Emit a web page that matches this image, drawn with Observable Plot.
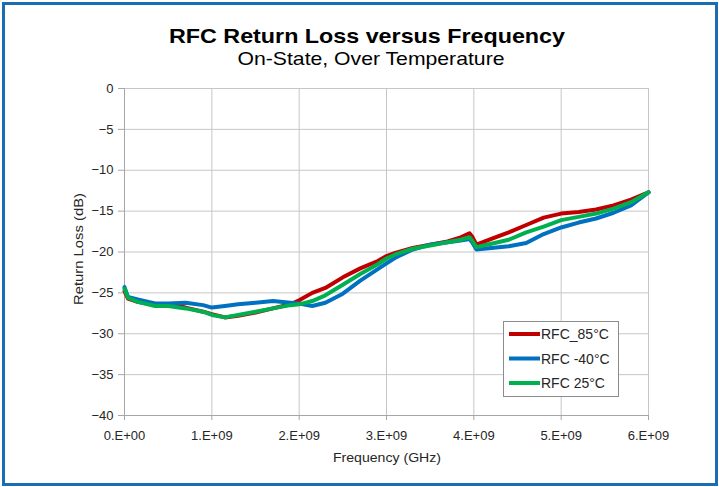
<!DOCTYPE html>
<html>
<head>
<meta charset="utf-8">
<script src="https://cdn.jsdelivr.net/npm/d3@7"></script>
<script src="https://cdn.jsdelivr.net/npm/@observablehq/plot@0.6"></script>
<style>
  html, body { margin: 0; padding: 0; background: #fff; }
  #wrap { position: relative; width: 719px; height: 487px; overflow: hidden; background: #fff; }
  #frame { position: absolute; left: 2px; top: 2px; width: 716px; height: 484px; box-sizing: border-box; border: 3px solid #1a6db3; }
  #chart { position: absolute; left: 0; top: 0; }
  #chart svg { font-family: "Liberation Sans", Arial, sans-serif; }
</style>
</head>
<body>
<div id="wrap"><div id="frame"></div><div id="chart"></div></div>
<script>
// Frequency grid (GHz)
const freqGHz = [0, 0.04, 0.15, 0.35, 0.5, 0.7, 0.9, 1.0, 1.15, 1.3, 1.5, 1.7, 1.9, 2.0, 2.15, 2.3, 2.5, 2.7, 2.9, 3.0, 3.1, 3.3, 3.5, 3.7, 3.85, 3.95, 3.98, 4.03, 4.2, 4.4, 4.6, 4.8, 5.0, 5.2, 5.4, 5.6, 5.8, 6.0];
// Return loss (dB) for each series
const rfc85 = [-24.8, -25.7, -26.1, -26.5, -26.4, -26.8, -27.3, -27.6, -28.0, -27.8, -27.4, -26.9, -26.4, -25.9, -25.0, -24.4, -23.1, -22.0, -21.1, -20.5, -20.1, -19.5, -19.1, -18.7, -18.2, -17.7, -18.1, -19.1, -18.4, -17.6, -16.7, -15.8, -15.3, -15.1, -14.8, -14.3, -13.6, -12.7];
const rfcM40 = [-24.3, -25.5, -25.8, -26.3, -26.3, -26.2, -26.5, -26.8, -26.6, -26.4, -26.2, -26.0, -26.2, -26.3, -26.6, -26.2, -25.1, -23.5, -22.1, -21.4, -20.7, -19.7, -19.1, -18.8, -18.6, -18.4, -18.8, -19.7, -19.5, -19.3, -18.9, -17.8, -17.0, -16.4, -15.9, -15.2, -14.3, -12.7];
const rfc25 = [-24.5, -25.6, -26.1, -26.6, -26.6, -26.9, -27.3, -27.7, -28.0, -27.7, -27.3, -26.9, -26.5, -26.4, -26.0, -25.3, -24.0, -22.7, -21.5, -20.8, -20.3, -19.6, -19.2, -18.8, -18.5, -18.2, -18.6, -19.4, -19.0, -18.5, -17.6, -16.9, -16.1, -15.7, -15.3, -14.7, -13.9, -12.7];

const seriesNames = ["RFC_85°C", "RFC -40°C", "RFC 25°C"];
const seriesColors = ["#c00000", "#0070c0", "#00b050"];
const xTicks = [0, 1e9, 2e9, 3e9, 4e9, 5e9, 6e9];
const xTickLabels = ["0.E+00", "1.E+09", "2.E+09", "3.E+09", "4.E+09", "5.E+09", "6.E+09"];
const yTicks = [0, -5, -10, -15, -20, -25, -30, -35, -40];

const titleText = "RFC Return Loss versus Frequency";
const subtitleText = "On-State, Over Temperature";
const xLabel = "Frequency (GHz)";
const yLabel = "Return Loss (dB)";

const seriesValues = [rfc85, rfcM40, rfc25];
const data = seriesValues.flatMap((vals, i) =>
  vals.map((v, j) => ({ f: freqGHz[j] * 1e9, db: v, s: seriesNames[i] })));

const W = 719, H = 487;
const mL = 124, mR = 71, mT = 88, mB = 72;

const chart = Plot.plot({
  width: W,
  height: H,
  marginLeft: mL,
  marginRight: mR,
  marginTop: mT,
  marginBottom: mB,
  style: { fontFamily: "Liberation Sans, Arial, sans-serif", color: "#262626", background: "transparent", overflow: "visible" },
  x: { domain: [0, 6e9], ticks: xTicks },
  y: { domain: [-40, 0], ticks: yTicks },
  color: { domain: seriesNames, range: seriesColors },
  marks: [
    Plot.gridX(xTicks, { stroke: "#c6c6c6", strokeOpacity: 1, strokeWidth: 1 }),
    Plot.gridY(yTicks, { stroke: "#c6c6c6", strokeOpacity: 1, strokeWidth: 1 }),
    Plot.ruleX([0], { stroke: "#a6a6a6", strokeWidth: 1 }),
    Plot.ruleY([-40], { stroke: "#a6a6a6", strokeWidth: 1 }),
    Plot.axisX(xTicks, {
      tickSize: 5, tickPadding: 10, fontSize: 13, stroke: "#a6a6a6",
      tickFormat: (d) => xTickLabels[xTicks.indexOf(d)], label: null
    }),
    Plot.axisY(yTicks, {
      tickSize: 6, tickPadding: 5, fontSize: 13, stroke: "#a6a6a6", label: null
    }),
    Plot.line(data, {
      x: "f", y: "db", z: "s", stroke: "s",
      strokeWidth: 4, strokeLinejoin: "round", strokeLinecap: "round", curve: "linear"
    })
  ]
});

document.getElementById("chart").appendChild(chart);

// Annotations: titles, axis labels, legend
const svg = d3.select(chart);
const FONT = "Liberation Sans, Arial, sans-serif";

svg.append("text")
  .attr("x", 367).attr("y", 43)
  .attr("text-anchor", "middle")
  .attr("font-family", FONT).attr("font-weight", "bold").attr("font-size", 21)
  .attr("textLength", 396).attr("lengthAdjust", "spacingAndGlyphs")
  .attr("fill", "#000")
  .text(titleText);

svg.append("text")
  .attr("x", 371).attr("y", 65)
  .attr("text-anchor", "middle")
  .attr("font-family", FONT).attr("font-size", 18.5)
  .attr("textLength", 267).attr("lengthAdjust", "spacingAndGlyphs")
  .attr("fill", "#000")
  .text(subtitleText);

svg.append("text")
  .attr("x", 387).attr("y", 462)
  .attr("text-anchor", "middle")
  .attr("font-family", FONT).attr("font-size", 13)
  .attr("textLength", 108).attr("lengthAdjust", "spacingAndGlyphs")
  .attr("fill", "#262626")
  .text(xLabel);

svg.append("text")
  .attr("transform", "translate(83,249) rotate(-90)")
  .attr("text-anchor", "middle")
  .attr("font-family", FONT).attr("font-size", 13)
  .attr("textLength", 112).attr("lengthAdjust", "spacingAndGlyphs")
  .attr("fill", "#262626")
  .text(yLabel);

// Legend
const lg = svg.append("g").attr("text-anchor", "start");
lg.append("rect")
  .attr("x", 503.5).attr("y", 321.5).attr("width", 115).attr("height", 75)
  .attr("fill", "#fff").attr("stroke", "#8c8c8c").attr("stroke-width", 1);
seriesNames.forEach((name, i) => {
  const yy = 334 + i * 24.5;
  lg.append("line")
    .attr("x1", 509).attr("x2", 540).attr("y1", yy).attr("y2", yy)
    .attr("stroke", seriesColors[i]).attr("stroke-width", 4);
  lg.append("text")
    .attr("x", 541).attr("y", yy + 5)
    .attr("text-anchor", "start")
    .attr("font-family", FONT).attr("font-size", 14)
    .attr("fill", "#262626")
    .text(name);
});
</script>
</body>
</html>
